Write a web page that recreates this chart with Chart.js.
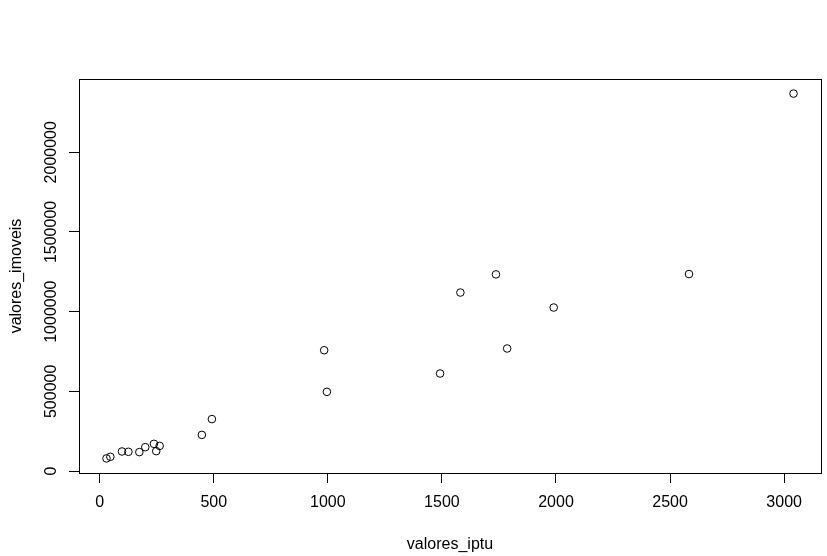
<!DOCTYPE html>
<html>
<head>
<meta charset="utf-8">
<script src="https://cdn.jsdelivr.net/npm/chart.js@4/dist/chart.umd.min.js"></script>
<style>
  html, body { margin: 0; padding: 0; background: #fff; }
  #plot { display: block; }
</style>
</head>
<body>
<canvas id="plot" width="827" height="556"></canvas>
<script>
// Data
const valoresIptu = [30, 47, 98, 126, 174, 200, 238, 248, 263, 448, 492,
  984, 996, 1492, 1581, 1737, 1786, 1990, 2583, 3041];
const valoresImoveis = [79500, 89600, 123000, 121000, 119000, 150000, 171000, 125000, 158000, 227000, 326000,
  758000, 497000, 612000, 1120000, 1234000, 769000, 1026000, 1236000, 2368000];

const xTicks = [0, 500, 1000, 1500, 2000, 2500, 3000];
const yTicks = [0, 500000, 1000000, 1500000, 2000000];
const xTitle = 'valores_iptu';
const yTitle = 'valores_imoveis';

const FONT = '16px "Liberation Sans", Arial, sans-serif';

// R-style axis range: data range stretched by 4% on each side
function rRange(arr) {
  const lo = Math.min(...arr), hi = Math.max(...arr);
  const pad = (hi - lo) * 0.04;
  return { min: lo - pad, max: hi + pad };
}
const xr = rRange(valoresIptu);
const yr = rRange(valoresImoveis);

const points = valoresIptu.map((x, i) => ({ x: x, y: valoresImoveis[i] }));

// Draws the box, rotated y labels and axis titles like base R graphics
const rAxes = {
  id: 'rAxes',
  afterDraw(chart) {
    const ctx = chart.ctx;
    const a = chart.chartArea;
    const xs = chart.scales.x, ys = chart.scales.y;
    ctx.save();
    ctx.strokeStyle = '#000';
    ctx.lineWidth = 1;
    ctx.strokeRect(Math.round(a.left) + 0.5, Math.round(a.top) + 0.5,
      Math.round(a.right - a.left), Math.round(a.bottom - a.top));

    ctx.fillStyle = '#000';
    ctx.font = FONT;

    // x tick labels
    ctx.textAlign = 'center';
    ctx.textBaseline = 'alphabetic';
    xTicks.forEach(v => {
      ctx.fillText(String(v), xs.getPixelForValue(v), 507);
    });

    // y tick labels, parallel to the axis
    yTicks.forEach(v => {
      ctx.save();
      ctx.translate(56, ys.getPixelForValue(v));
      ctx.rotate(-Math.PI / 2);
      ctx.fillText(String(v), 0, 0);
      ctx.restore();
    });

    // titles
    ctx.fillText(xTitle, (a.left + a.right) / 2, 549);
    ctx.save();
    ctx.translate(21, (a.top + a.bottom) / 2);
    ctx.rotate(-Math.PI / 2);
    ctx.fillText(yTitle, 0, 0);
    ctx.restore();

    ctx.restore();
  }
};

new Chart(document.getElementById('plot'), {
  type: 'scatter',
  data: {
    datasets: [{
      data: points,
      pointStyle: 'circle',
      pointRadius: 3.8,
      pointHoverRadius: 3.8,
      borderColor: '#000',
      backgroundColor: 'rgba(0,0,0,0)',
      borderWidth: 1
    }]
  },
  options: {
    responsive: false,
    animation: false,
    devicePixelRatio: 1,
    layout: { padding: { top: 79, right: 6, bottom: 0, left: 0 } },
    plugins: {
      legend: { display: false },
      tooltip: { enabled: false }
    },
    scales: {
      x: {
        type: 'linear',
        min: xr.min,
        max: xr.max,
        afterBuildTicks: scale => { scale.ticks = xTicks.map(v => ({ value: v })); },
        afterFit: scale => { scale.height = 83; },
        ticks: { display: false },
        border: { display: false },
        grid: {
          drawOnChartArea: false,
          drawTicks: true,
          tickLength: 10,
          tickColor: '#000',
          color: '#000'
        }
      },
      y: {
        type: 'linear',
        min: yr.min,
        max: yr.max,
        afterBuildTicks: scale => { scale.ticks = yTicks.map(v => ({ value: v })); },
        afterFit: scale => { scale.width = 79; },
        ticks: { display: false },
        border: { display: false },
        grid: {
          drawOnChartArea: false,
          drawTicks: true,
          tickLength: 10,
          tickColor: '#000',
          color: '#000'
        }
      }
    }
  },
  plugins: [rAxes]
});
</script>
</body>
</html>
